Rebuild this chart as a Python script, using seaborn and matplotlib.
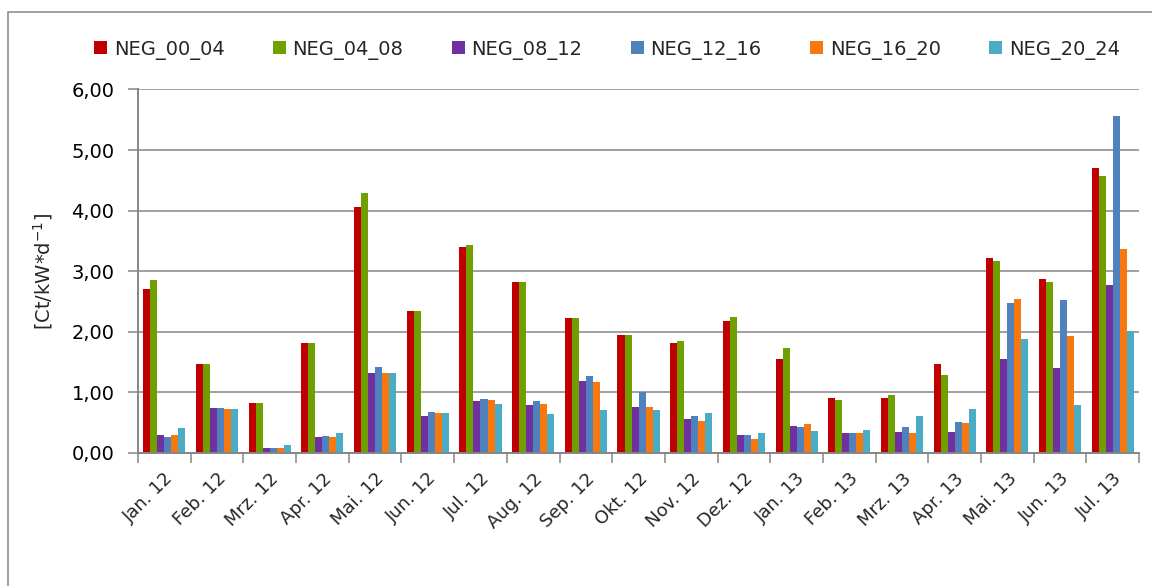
import pandas as pd
import seaborn as sns
import matplotlib.pyplot as plt
from matplotlib.patches import Rectangle
from matplotlib.ticker import FuncFormatter, FixedLocator

# Monthly values per time slot [Ct/kW*d^-1]
months = ['Jan. 12', 'Feb. 12', 'Mrz. 12', 'Apr. 12', 'Mai. 12', 'Jun. 12',
          'Jul. 12', 'Aug. 12', 'Sep. 12', 'Okt. 12', 'Nov. 12', 'Dez. 12',
          'Jan. 13', 'Feb. 13', 'Mrz. 13', 'Apr. 13', 'Mai. 13', 'Jun. 13',
          'Jul. 13']

neg_00_04 = [2.71, 1.47, 0.82, 1.81, 4.06, 2.34, 3.40, 2.82, 2.23, 1.95,
             1.81, 2.18, 1.55, 0.91, 0.91, 1.47, 3.22, 2.87, 4.70]
neg_04_08 = [2.85, 1.47, 0.82, 1.81, 4.29, 2.34, 3.43, 2.82, 2.23, 1.95,
             1.85, 2.25, 1.73, 0.88, 0.96, 1.29, 3.17, 2.82, 4.57]
neg_08_12 = [0.30, 0.74, 0.08, 0.26, 1.32, 0.61, 0.86, 0.79, 1.19, 0.76,
             0.56, 0.30, 0.44, 0.33, 0.35, 0.35, 1.55, 1.40, 2.77]
neg_12_16 = [0.26, 0.74, 0.08, 0.28, 1.42, 0.68, 0.89, 0.86, 1.27, 1.00,
             0.61, 0.30, 0.43, 0.33, 0.43, 0.51, 2.48, 2.52, 5.56]
neg_16_20 = [0.30, 0.73, 0.08, 0.26, 1.32, 0.66, 0.88, 0.81, 1.17, 0.76,
             0.53, 0.23, 0.48, 0.33, 0.33, 0.50, 2.54, 1.93, 3.37]
neg_20_24 = [0.41, 0.73, 0.13, 0.33, 1.32, 0.66, 0.81, 0.64, 0.71, 0.71,
             0.66, 0.33, 0.37, 0.38, 0.61, 0.73, 1.88, 0.79, 2.01]

series_names = ['NEG_00_04', 'NEG_04_08', 'NEG_08_12', 'NEG_12_16',
                'NEG_16_20', 'NEG_20_24']
colors = ['#C00000', '#70A000', '#7030A0', '#4F81BD', '#F7780F', '#4BACC6']

series = [neg_00_04, neg_04_08, neg_08_12, neg_12_16, neg_16_20, neg_20_24]
df = pd.DataFrame({
    'month': months * len(series_names),
    'series': [n for n in series_names for _ in months],
    'value': [v for s in series for v in s],
})

sns.set_style('white')
plt.rcParams['font.family'] = ['DejaVu Sans']

fig = plt.figure(figsize=(11.52, 5.86), dpi=100)
ax = fig.add_axes([0.1198, 0.227, 0.869, 0.6203])

sns.barplot(data=df, x='month', y='value', hue='series', order=months,
            hue_order=series_names, palette=colors, width=0.8,
            saturation=1, ax=ax, errorbar=None, linewidth=0)

grey = '#868686'
ax.set_ylim(0, 6)
ax.set_xlim(-0.5, len(months) - 0.5)
ax.yaxis.set_major_formatter(FuncFormatter(lambda v, p: f'{v:.2f}'.replace('.', ',')))
ax.set_yticks(range(7))
ax.yaxis.grid(True, color=grey, linewidth=1.1)
ax.set_axisbelow(True)

# category boundary ticks on x-axis
ax.xaxis.set_minor_locator(FixedLocator([i - 0.5 for i in range(len(months) + 1)]))
ax.tick_params(axis='x', which='minor', length=7, width=1.1, color=grey, bottom=True)
ax.tick_params(axis='x', which='major', length=0, pad=12, labelsize=13)
ax.tick_params(axis='y', length=7, width=1.1, color=grey, left=True, labelsize=14,
               colors='#000000', pad=10)
ax.tick_params(axis='y', color=grey)
plt.setp(ax.get_xticklabels(), rotation=45, ha='right', rotation_mode='anchor')

for side in ['top', 'right']:
    ax.spines[side].set_visible(False)
for side in ['left', 'bottom']:
    ax.spines[side].set_color(grey)
    ax.spines[side].set_linewidth(1.4)

ax.set_xlabel('')
ax.set_ylabel(r'[Ct/kW*d$^{\mathregular{-1}}$]', fontsize=14, labelpad=12)

handles, labels = ax.get_legend_handles_labels()
ax.legend_.remove()
fig.legend(handles, labels, ncol=6, loc='center', bbox_to_anchor=(0.527, 0.915),
           frameon=False, fontsize=14, handlelength=0.65, handleheight=0.65,
           handletextpad=0.35, columnspacing=2.5)

# outer chart frame
fig.patches.append(Rectangle((8 / 1152, -0.1), 1.2, 1.1 - 12 / 586 + 0.0,
                             transform=fig.transFigure, fill=False,
                             edgecolor=grey, linewidth=1.1))

fig.savefig('out.png', dpi=100)
